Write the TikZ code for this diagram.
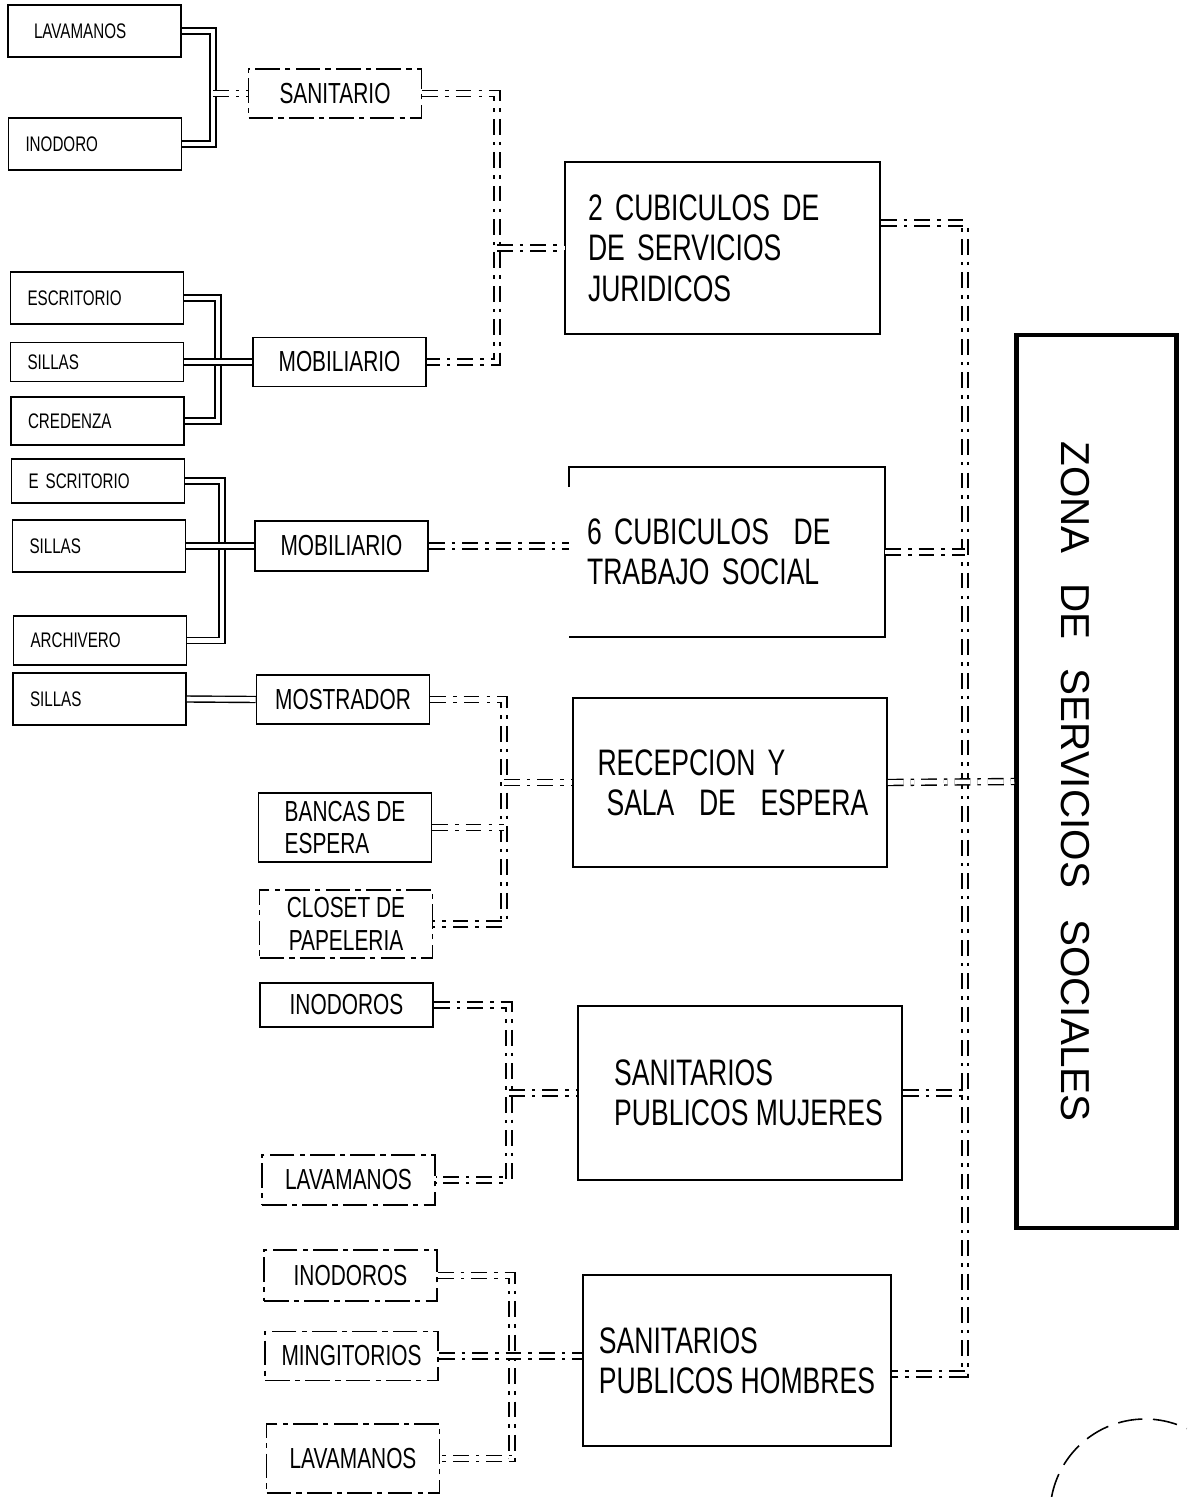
\documentclass[tikz,border=0pt]{standalone}
\usepackage{fontspec}
\setmainfont{Liberation Sans}
\newfontfamily\labelfont[FakeStretch=0.72]{Liberation Sans}
\usepackage{tikz}
\usetikzlibrary{calc}

\begin{document}
\begin{tikzpicture}[x=0.02cm, y=-0.02cm,
  leaf/.style={draw, line width=0.9pt, font=\labelfont\fontsize{12}{13}\selectfont, text width=2.78cm, inner xsep=0.34cm, minimum height=1.04cm, align=left},
  part/.style={draw, line width=0.9pt, font=\labelfont\fontsize{16.5}{18.5}\selectfont, minimum width=3.46cm, minimum height=0.98cm, inner sep=2pt, align=center},
  room/.style={draw, line width=0.9pt, font=\labelfont\fontsize{21}{23}\selectfont, minimum width=6.3cm, minimum height=3.4cm, inner xsep=2pt, align=left},
  zone/.style={draw, line width=2.6pt, font=\fontsize{23}{26}\selectfont, rotate=-90, minimum width=17.86cm, minimum height=3.2cm, text height=1.4cm, text depth=0pt},
  dashbox/.style={dash pattern=on 14pt off 3pt on 3pt off 3pt},
  solidlink/.style={double, double distance=2.6pt, line width=0.8pt},
  dashlink/.style={solidlink, dash pattern=on 9pt off 4pt on 2pt off 4pt}
]
\useasboundingbox (0,0) rectangle (1187,1497);

% Left column
\node[leaf] (lav1) at (94.5,31) {\hspace*{0.18cm}LAVAMANOS};
\node[leaf] (ino1) at (95,144) {INODORO};
\node[leaf] (esc1) at (97,298) {ESCRITORIO};
\node[leaf, minimum height=0.78cm] (sil1) at (97,362) {SILLAS};
\node[leaf, minimum height=0.96cm] (cre1) at (97.5,421) {CREDENZA};
\node[leaf, minimum height=0.88cm] (esc2) at (98,481) {E SCRITORIO};
\node[leaf] (sil2) at (99,546) {SILLAS};
\node[leaf, minimum height=0.98cm] (arc2) at (100,640.5) {ARCHIVERO};
\node[leaf] (sil3) at (99.5,699) {SILLAS};

% Middle column
\node[part, dashbox] (san) at (335,93.5) {SANITARIO};
\node[part] (mob1) at (339.5,362) {MOBILIARIO};
\node[part, minimum height=1.0cm] (mob2) at (341.5,546) {MOBILIARIO};
\node[part] (most) at (343,699.5) {MOSTRADOR};
\node[part, minimum height=1.38cm, align=left] (banc) at (345,827.5) {BANCAS DE\\ESPERA};
\node[part, dashbox, minimum height=1.36cm] (clos) at (346,924) {CLOSET DE\\PAPELERIA};
\node[part, minimum height=0.88cm] (inoM) at (346.5,1005) {INODOROS};
\node[part, dashbox, minimum height=1.0cm] (lavM) at (348.5,1180) {LAVAMANOS};
\node[part, dashbox, minimum height=1.02cm] (inoH) at (350.5,1275.5) {INODOROS};
\node[part, dashbox] (ming) at (351.5,1356) {MINGITORIOS};
\node[part, dashbox, minimum height=1.38cm] (lavH) at (353,1458.5) {LAVAMANOS};

% Rooms
\node[room, minimum height=3.44cm, text width=5.38cm, inner xsep=0.46cm] (cub2) at (722.5,248) {2 CUBICULOS DE\\DE SERVICIOS\\JURIDICOS};
\node[room, draw=none, minimum height=3.36cm, text width=5.6cm, inner xsep=0.34cm] (cub6) at (727,552) {6 CUBICULOS~ DE\\TRABAJO SOCIAL};
\draw[line width=0.9pt] ([yshift=-0.4cm]cub6.north west) -- (cub6.north west) -- (cub6.north east)
  -- (cub6.south east) -- (cub6.south west);
\node[room, minimum width=6.28cm, minimum height=3.38cm, text width=5.3cm, inner xsep=0.49cm] (recep) at (730,782.5) {RECEPCION Y\\\hspace*{0.18cm}\mbox{SALA~ DE~ ESPERA}};
\node[room, minimum width=6.48cm, minimum height=3.48cm] (muj) at (740,1093) {\hspace*{0.34cm}SANITARIOS\\\hspace*{0.34cm}PUBLICOS MUJERES};
\node[room, minimum width=6.16cm, minimum height=3.42cm] (hom) at (737,1360.5) {SANITARIOS\\PUBLICOS HOMBRES};

% Zone
\node[zone] (zona) at (1096.5,781.5) {ZONA\hspace{0.45em} DE\hspace{0.45em} SERVICIOS\hspace{0.5em} SOCIALES};

% Brackets
\coordinate (ja) at (213,93.5);
\coordinate (jb) at (218,362);
\coordinate (jc) at (222,546);
\coordinate (jg) at (497,248);
\coordinate (jd) at (504,782.5);
\coordinate (je) at (509,1093);
\coordinate (jf) at (512,1356);
\coordinate (bus) at (965,782.5);

\draw[solidlink] (lav1.east) -| (ja) |- (ino1.east);
\draw[solidlink] (esc1.east) -| (jb) |- (cre1.east);
\draw[solidlink] (esc2.east) -| (jc) |- (arc2.east);
\draw[dashlink] (san.east) -| (jg) |- (mob1.east);
\draw[dashlink] (most.east) -| (jd) |- (clos.east);
\draw[dashlink] (inoM.east) -| (je) |- (lavM.east);
\draw[dashlink] (inoH.east) -| (jf) |- (lavH.east);
\draw[dashlink] (cub2.9) -| (bus) |- (hom.-5);

% Branches
\draw[dashlink] (ja) -- (san.west);
\draw[solidlink] (sil1.east) -- (mob1.west);
\draw[solidlink] (sil2.east) -- (mob2.west);
\draw[solidlink] (sil3.east) -- (most.west);
\draw[dashlink] (jg) -- (cub2.west);
\draw[dashlink] (mob2.east) -- (mob2.east -| cub6.west);
\draw[dashlink] (banc.east) -- (banc.east -| jd);
\draw[dashlink] (jd) -- (recep.west);
\draw[dashlink] (je) -- (muj.west);
\draw[dashlink] (ming.east) -- (ming.east -| hom.west);
\draw[dashlink] (cub6.east) -- (cub6.east -| bus);
\draw[dashlink] (muj.east) -- (muj.east -| bus);
\draw[dashlink] (recep.east) -- (zona.south);

% Arc
\draw[line width=0.9pt, dash pattern=on 14pt off 6pt] (1051.5,1497.5) arc[start angle=-170, end angle=-64, radius=95];
\end{tikzpicture}
\end{document}
